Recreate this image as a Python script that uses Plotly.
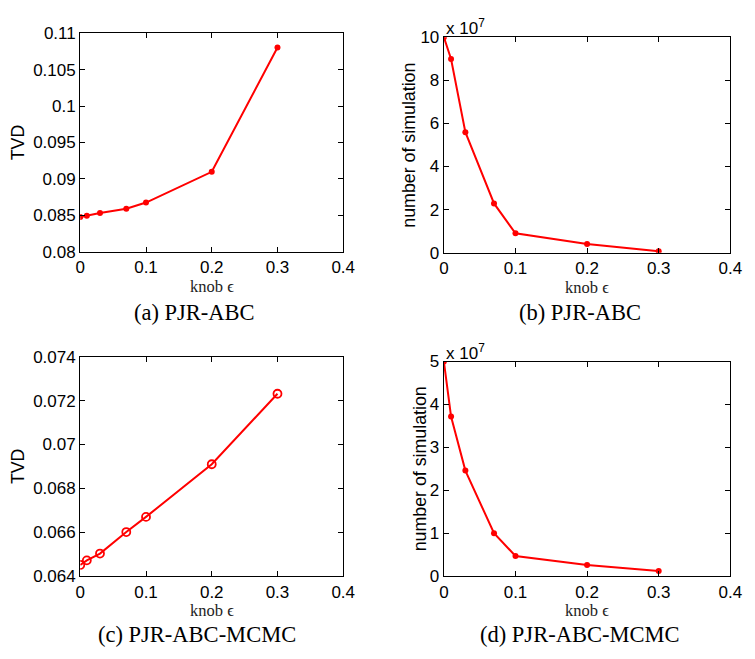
import plotly.graph_objects as go

# ---- data ----
knob = [0, 0.01, 0.03, 0.07, 0.1, 0.2, 0.3]
tvd_abc = [0.08478, 0.08496, 0.08533, 0.08591, 0.08676, 0.09098, 0.10804]
nsim_abc = [10.0, 8.99, 5.59, 2.29, 0.90, 0.41, 0.075]          # x 10^7
tvd_mcmc = [0.06451, 0.06472, 0.06503, 0.06601, 0.06670, 0.06910, 0.07231]
nsim_mcmc = [5.0, 3.72, 2.46, 1.0, 0.47, 0.26, 0.12]             # x 10^7

x_ticks = [0, 0.1, 0.2, 0.3, 0.4]
x_ticktext = ["0", "0.1", "0.2", "0.3", "0.4"]
a_ticks = [0.08, 0.085, 0.09, 0.095, 0.1, 0.105, 0.11]
a_ticktext = ["0.08", "0.085", "0.09", "0.095", "0.1", "0.105", "0.11"]
b_ticks = [0, 2, 4, 6, 8, 10]
b_ticktext = ["0", "2", "4", "6", "8", "10"]
c_ticks = [0.064, 0.066, 0.068, 0.07, 0.072, 0.074]
c_ticktext = ["0.064", "0.066", "0.068", "0.07", "0.072", "0.074"]
d_ticks = [0, 1, 2, 3, 4, 5]
d_ticktext = ["0", "1", "2", "3", "4", "5"]

captions = ["(a) PJR-ABC", "(b) PJR-ABC", "(c) PJR-ABC-MCMC", "(d) PJR-ABC-MCMC"]

W, H = 755, 659
RED = "#ff0000"
SANS = "Liberation Sans, Arial, sans-serif"
SERIF = "Liberation Serif, Times New Roman, serif"


def dom_x(l, r):
    return [l / W, r / W]


def dom_y(t, b):
    return [1 - b / H, 1 - t / H]


fig = go.Figure()

fig.add_trace(go.Scatter(x=knob, y=tvd_abc, mode="lines+markers",
                         line=dict(color=RED, width=2),
                         marker=dict(symbol="circle", size=6, color=RED),
                         xaxis="x", yaxis="y", showlegend=False))
fig.add_trace(go.Scatter(x=knob, y=nsim_abc, mode="lines+markers",
                         line=dict(color=RED, width=2),
                         marker=dict(symbol="circle", size=6, color=RED),
                         xaxis="x2", yaxis="y2", showlegend=False))
fig.add_trace(go.Scatter(x=knob, y=tvd_mcmc, mode="lines+markers",
                         line=dict(color=RED, width=2),
                         marker=dict(symbol="circle-open", size=8, color=RED,
                                     line=dict(width=1.8, color=RED)),
                         xaxis="x3", yaxis="y3", showlegend=False))
fig.add_trace(go.Scatter(x=knob, y=nsim_mcmc, mode="lines+markers",
                         line=dict(color=RED, width=2),
                         marker=dict(symbol="circle", size=6, color=RED),
                         xaxis="x4", yaxis="y4", showlegend=False))

common = dict(showline=True, linecolor="black", linewidth=1.3, mirror="ticks",
              ticks="inside", ticklen=5, tickwidth=1, tickcolor="black",
              showgrid=False, zeroline=False,
              tickfont=dict(family=SANS, size=17, color="black"))

boxes = {
    "": (77, 346, 25, 250),
    "2": (449, 742, 29, 251),
    "3": (77, 346, 358, 584),
    "4": (449, 742, 363, 584),
}
yspecs = {
    "": ([0.08, 0.11], a_ticks, a_ticktext),
    "2": ([0, 10], b_ticks, b_ticktext),
    "3": ([0.064, 0.074], c_ticks, c_ticktext),
    "4": ([0, 5], d_ticks, d_ticktext),
}

layout = {}
for k, (l, r, t, b) in boxes.items():
    yr, yt, ytt = yspecs[k]
    layout["xaxis" + k] = dict(common, domain=dom_x(l, r), range=[0, 0.4],
                               tickvals=x_ticks, ticktext=x_ticktext,
                               anchor="y" + k)
    layout["yaxis" + k] = dict(common, domain=dom_y(t, b), range=yr,
                               tickvals=yt, ticktext=ytt,
                               anchor="x" + k)
fig.update_layout(**layout)

ann = []
# x-axis titles
for k in ["", "2", "3", "4"]:
    ann.append(dict(text="knob ϵ", xref=f"x{k} domain", yref=f"y{k} domain",
                    x=0.5, y=0, xanchor="center", yanchor="top", yshift=-23,
                    showarrow=False, font=dict(family=SERIF, size=16.5, color="#222")))
# y-axis titles
ytitles = [("TVD", 13, ""), ("number of simulation", 413, "2"),
           ("TVD", 14, "3"), ("number of simulation", 424, "4")]
for txt, xp, k in ytitles:
    ann.append(dict(text=txt, xref="paper", yref=f"y{k} domain",
                    x=xp / W, y=0.5, xanchor="center", yanchor="middle",
                    textangle=-90, showarrow=False,
                    font=dict(family=SANS, size=17.8, color="black")))
# exponent labels
for k in ["2", "4"]:
    ann.append(dict(text="x 10<sup>7</sup>", xref=f"x{k} domain", yref=f"y{k} domain",
                    x=0, y=1, xanchor="left", yanchor="bottom", xshift=0, yshift=-3,
                    showarrow=False, font=dict(family=SANS, size=17, color="black")))
# captions
cap_pos = [(194, 312), (588, 312), (196, 644), (588, 644)]
for txt, (cx, cy) in zip(captions, cap_pos):
    ann.append(dict(text=txt, xref="paper", yref="paper",
                    x=cx / W, y=1 - cy / H, xanchor="center", yanchor="middle",
                    showarrow=False, font=dict(family=SERIF, size=22.5, color="black")))

fig.update_layout(annotations=ann, width=W, height=H,
                  margin=dict(l=0, r=0, t=0, b=0),
                  paper_bgcolor="white", plot_bgcolor="white")

fig.write_html("out.html", config={"displayModeBar": False},
               post_script="document.body.style.margin='0';document.body.style.padding='0';")
